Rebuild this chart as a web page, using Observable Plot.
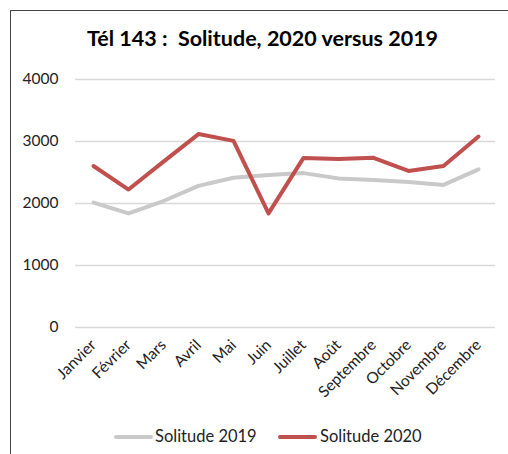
<!DOCTYPE html>
<html><head><meta charset="utf-8">
<script src="https://cdn.jsdelivr.net/npm/d3@7"></script>
<script src="https://cdn.jsdelivr.net/npm/@observablehq/plot@0.6"></script>
<style>
body{margin:0;background:#fff;font-family:Lato,sans-serif;}
#wrap{position:relative;width:508px;height:454px;overflow:hidden;background:#fff;}
#frame{position:absolute;left:10px;top:10px;width:600px;height:600px;border-top:1.5px solid #444;border-left:1.5px solid #444;}
#title{position:absolute;left:0;width:525px;top:25px;text-align:center;font-weight:bold;font-size:21.5px;white-space:pre;color:#000;}
#chart{position:absolute;left:0;top:0;}
.lg{position:absolute;top:426px;font-size:16.5px;color:#222;white-space:nowrap;}
.sw{position:absolute;top:435px;height:4px;width:39px;border-radius:2px;}
</style></head>
<body>
<div id="wrap">
<div id="frame"></div>
<div id="chart"></div>
<div id="title">Tél 143 :  Solitude, 2020 versus 2019</div>
<div class="sw" style="left:114px;background:#c9c9c9"></div>
<div class="lg" style="left:155px">Solitude 2019</div>
<div class="sw" style="left:278px;background:#c0504d"></div>
<div class="lg" style="left:320px">Solitude 2020</div>
</div>
<script>
const months = ["Janvier","Février","Mars","Avril","Mai","Juin","Juillet","Août","Septembre","Octobre","Novembre","Décembre"];
const s2019 = [2015,1840,2040,2285,2415,2460,2490,2405,2380,2345,2300,2550];
const s2020 = [2605,2225,2675,3120,3010,1840,2735,2718,2737,2525,2605,3080];
const yTicks = [0,1000,2000,3000,4000];

const rows = months.flatMap((m,i)=>[
  {month:m, value:s2019[i], series:"Solitude 2019"},
  {month:m, value:s2020[i], series:"Solitude 2020"}
]);

const plot = Plot.plot({
  width:508, height:454,
  marginTop:79, marginBottom:127, marginLeft:75, marginRight:13,
  style:{fontFamily:"Lato, sans-serif", fontSize:"15px", color:"#222", background:"transparent"},
  x:{type:"point", domain:months, padding:0.5, label:null},
  y:{domain:[0,4000], label:null},
  color:{domain:["Solitude 2019","Solitude 2020"], range:["#c9c9c9","#c0504d"]},
  marks:[
    Plot.ruleY(yTicks, {stroke:"#d9d9d9", strokeWidth:1.5}),
    Plot.axisY({ticks:yTicks, tickFormat:d=>String(d), tickSize:0, tickPadding:17, fontSize:15.5, label:null}),
    Plot.axisX({tickSize:0, tickRotate:-45, tickPadding:15, fontSize:15.5, label:null}),
    Plot.line(rows, {x:"month", y:"value", z:"series", stroke:"series", strokeWidth:4, strokeLinejoin:"round", strokeLinecap:"round"})
  ]
});
document.getElementById("chart").appendChild(plot);
</script>
</body></html>
